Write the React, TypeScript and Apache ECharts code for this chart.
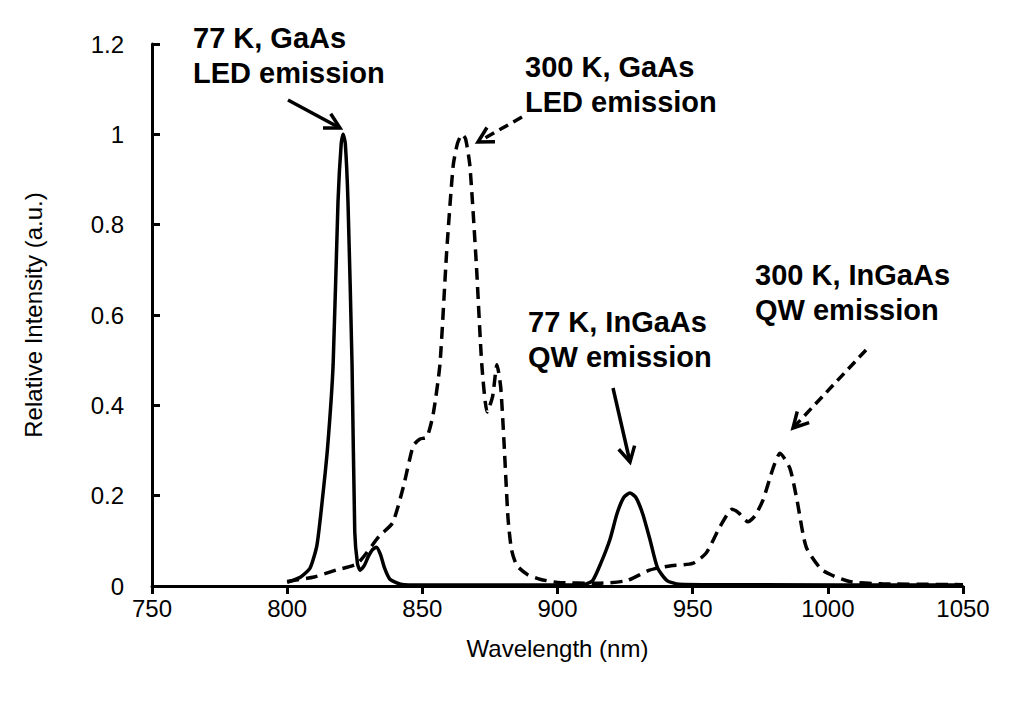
import React, { useEffect, useRef } from "react";
import * as echarts from "echarts";

const solidX = [800, 805, 808.5, 811, 813, 815, 817, 818.8, 820, 820.7, 821.5, 822.5, 824, 825, 826, 827, 828.5, 830, 831.5, 833, 834.5, 836, 838, 842, 850, 900, 910, 913, 916, 919.4, 922, 924.5, 926.8, 929, 931.5, 934.2, 937, 940.5, 945, 960, 1050];
const solidY = [0.008, 0.02, 0.04, 0.09, 0.19, 0.31, 0.49, 0.85, 0.98, 1.0, 0.98, 0.85, 0.49, 0.12, 0.05, 0.035, 0.045, 0.065, 0.08, 0.086, 0.07, 0.04, 0.015, 0.004, 0.002, 0.002, 0.004, 0.012, 0.05, 0.103, 0.16, 0.196, 0.206, 0.196, 0.16, 0.103, 0.04, 0.012, 0.004, 0.003, 0.002];

const dashX = [800, 810, 818, 826, 834, 839, 843, 846.6, 849, 851.7, 854, 856.5, 859, 861.4, 863, 864.7, 866, 867.6, 870, 872, 874, 876, 877.6, 879, 880.2, 881.7, 883, 885, 889, 893.5, 900, 915, 925.7, 934, 942, 950, 955, 960, 964.6, 967, 970.5, 973, 976, 979.7, 982.3, 986, 988.6, 992, 998, 1008, 1020, 1050];
const dashY = [0.01, 0.02, 0.035, 0.05, 0.11, 0.14, 0.22, 0.31, 0.325, 0.33, 0.38, 0.49, 0.74, 0.93, 0.98, 1.0, 0.99, 0.93, 0.71, 0.49, 0.385, 0.42, 0.49, 0.44, 0.32, 0.15, 0.08, 0.045, 0.025, 0.015, 0.008, 0.006, 0.012, 0.035, 0.045, 0.05, 0.073, 0.13, 0.17, 0.162, 0.142, 0.155, 0.19, 0.26, 0.294, 0.26, 0.19, 0.086, 0.035, 0.01, 0.005, 0.003];

const LH = 35;
const labels = [
  { lines: ["77 K, GaAs", "LED emission"], x: 193, y: 38 - LH / 2 },
  { lines: ["300 K, GaAs", "LED emission"], x: 525, y: 67 - LH / 2 },
  { lines: ["77 K, InGaAs", "QW emission"], x: 528, y: 322 - LH / 2 },
  { lines: ["300 K, InGaAs", "QW emission"], x: 755, y: 275 - LH / 2 },
];

const arrows = [
  { from: [288, 100], to: [340, 128], dashed: false },
  { from: [522, 117], to: [478, 142], dashed: true },
  { from: [613, 388], to: [630, 462], dashed: false },
  { from: [866, 350], to: [793, 428], dashed: true },
];

function arrowGraphics() {
  const out: any[] = [];
  arrows.forEach((a) => {
    const [x1, y1] = a.from;
    const [x2, y2] = a.to;
    const ang = Math.atan2(y2 - y1, x2 - x1);
    const L = 17;
    const s = 0.5;
    out.push({
      type: "line",
      shape: { x1, y1, x2, y2 },
      style: { stroke: "#000", lineWidth: 3.5, lineDash: a.dashed ? [10, 6] : null },
    });
    out.push({
      type: "polyline",
      shape: {
        points: [
          [x2 - L * Math.cos(ang - s), y2 - L * Math.sin(ang - s)],
          [x2, y2],
          [x2 - L * Math.cos(ang + s), y2 - L * Math.sin(ang + s)],
        ],
      },
      style: { stroke: "#000", lineWidth: 3.5, fill: null },
    });
  });
  labels.forEach((l) => {
    out.push({
      type: "text",
      x: l.x,
      y: l.y,
      style: {
        text: l.lines.join("\n"),
        font: "bold 29px Arial, 'Liberation Sans', sans-serif",
        fill: "#000",
        align: "left",
        lineHeight: LH,
      },
    });
  });
  out.push({
    type: "rect",
    shape: { x: 2, y: 2, width: 1005, height: 706 },
    style: { fill: null, stroke: "#888", lineWidth: 1 },
  });
  return out;
}

export default function App() {
  const ref = useRef<HTMLDivElement>(null);
  useEffect(() => {
    const chart = echarts.init(ref.current!, null, { renderer: "svg" });
    const font = "Arial, 'Liberation Sans', sans-serif";
    chart.setOption({
      animation: false,
      backgroundColor: "#fff",
      grid: { left: 152, right: 47, top: 44, bottom: 125 },
      xAxis: {
        type: "value",
        min: 750,
        max: 1050,
        interval: 50,
        name: "Wavelength (nm)",
        nameLocation: "middle",
        nameGap: 50,
        nameTextStyle: { fontSize: 24, color: "#000", fontFamily: font },
        axisLine: { lineStyle: { color: "#000", width: 3 } },
        axisTick: { length: 8, lineStyle: { color: "#000", width: 3 } },
        axisLabel: { fontSize: 24, color: "#000", fontFamily: font, margin: 10, formatter: (v: number) => String(v) },
        splitLine: { show: false },
      },
      yAxis: {
        type: "value",
        min: 0,
        max: 1.2,
        interval: 0.2,
        name: "Relative Intensity (a.u.)",
        nameLocation: "middle",
        nameGap: 107,
        nameTextStyle: { fontSize: 24, color: "#000", fontFamily: font },
        axisLine: { show: true, lineStyle: { color: "#000", width: 3 } },
        axisTick: { show: true, inside: true, length: 8, lineStyle: { color: "#000", width: 3 } },
        axisLabel: {
          fontSize: 24,
          color: "#000",
          fontFamily: font,
          margin: 28,
          formatter: (v: number) => String(Math.round(v * 10) / 10),
        },
        splitLine: { show: false },
      },
      series: [
        {
          type: "line",
          data: solidX.map((x, i) => [x, solidY[i]]),
          smooth: 0.2,
          showSymbol: false,
          lineStyle: { color: "#000", width: 3.5 },
        },
        {
          type: "line",
          data: dashX.map((x, i) => [x, dashY[i]]),
          smooth: 0.2,
          showSymbol: false,
          lineStyle: { color: "#000", width: 3.5, type: [12, 7] },
        },
      ],
      graphic: arrowGraphics(),
    });
    return () => chart.dispose();
  }, []);
  return <div ref={ref} style={{ width: 1010, height: 711, margin: -8 }} />;
}
